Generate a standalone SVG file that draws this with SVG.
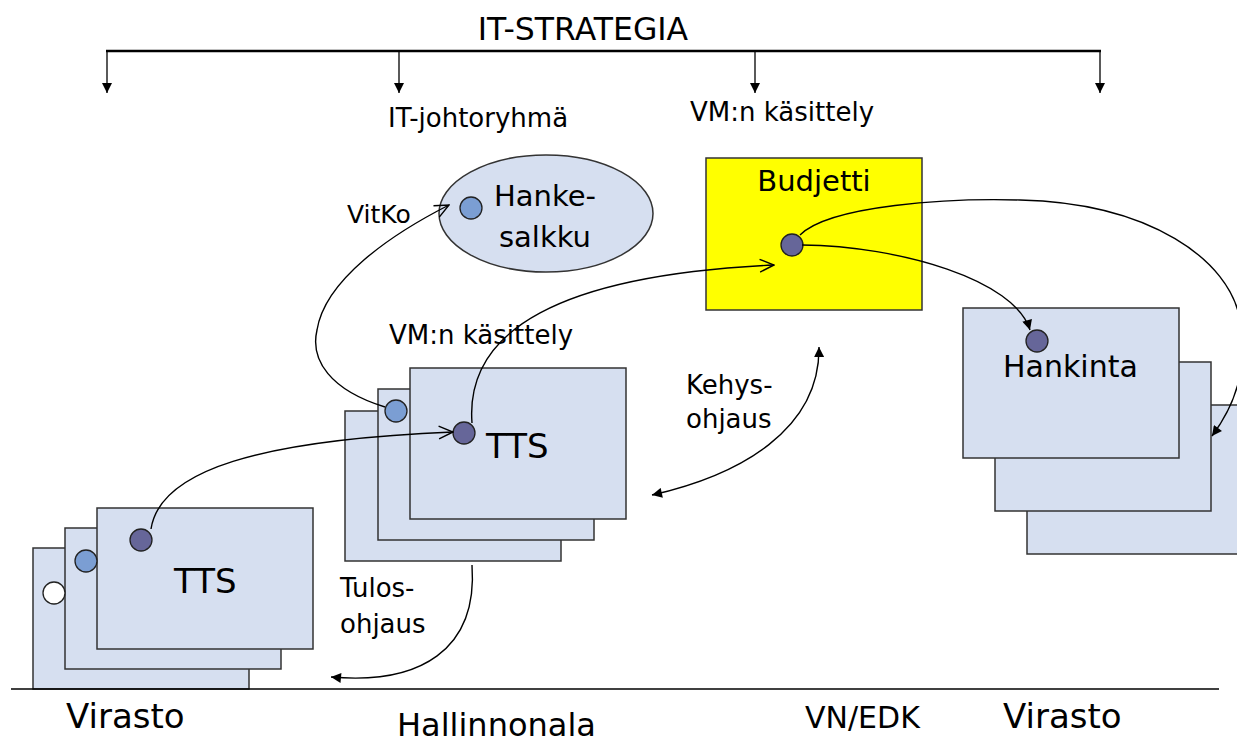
<svg xmlns="http://www.w3.org/2000/svg" width="1237" height="745" viewBox="0 0 1237 745">
<style>
text{font-family:"DejaVu Sans","Liberation Sans",sans-serif;fill:#000}
.box{fill:#D6DFF0;stroke:#333;stroke-width:1.5}
.dk{fill:#666699;stroke:#222;stroke-width:1.3}
.bl{fill:#7B9ED3;stroke:#222;stroke-width:1.3}
.wh{fill:#fff;stroke:#222;stroke-width:1.3}
.c{fill:none;stroke:#000;stroke-width:1.4}
</style>
<defs>
<marker id="af" viewBox="0 0 10 10" refX="10" refY="5" markerWidth="11" markerHeight="10" markerUnits="userSpaceOnUse" orient="auto-start-reverse"><path d="M0,0 L10,5 L0,10 z" fill="#000"/></marker>
<marker id="ao" viewBox="0 0 12 12" refX="11" refY="6" markerWidth="17" markerHeight="17" markerUnits="userSpaceOnUse" orient="auto"><path d="M1,1.5 L11,6 L1,10.5" fill="none" stroke="#000" stroke-width="1"/></marker>
</defs>
<rect width="1237" height="745" fill="#fff"/>

<g id="it-strategia">
<text x="583" y="40" font-size="31.5" text-anchor="middle">IT-STRATEGIA</text>
<line x1="106" y1="51" x2="1101" y2="51" stroke="#000" stroke-width="2.5"/>
<g stroke="#000" stroke-width="1.3" marker-end="url(#af)">
<line x1="107" y1="51" x2="107" y2="93"/>
<line x1="399" y1="51" x2="399" y2="93"/>
<line x1="755" y1="51" x2="755" y2="93"/>
<line x1="1100" y1="51" x2="1100" y2="93"/>
</g>
<text x="388" y="127" font-size="26">IT-johtoryhmä</text>
<text x="690" y="121" font-size="26">VM:n käsittely</text>
</g>

<g id="virasto-tts">
<rect class="box" x="33" y="548" width="216" height="141"/>
<rect class="box" x="65" y="528" width="216" height="141"/>
<rect class="box" x="97" y="508" width="216" height="141"/>
<circle class="wh" cx="54" cy="593" r="11"/>
<circle class="bl" cx="86" cy="561" r="11"/>
<circle class="dk" cx="141" cy="540" r="11"/>
<text x="174" y="593" font-size="34">TTS</text>
</g>

<g id="hallinnonala-tts">
<rect class="box" x="345" y="411" width="216" height="150"/>
<rect class="box" x="378" y="389" width="216" height="151"/>
<rect class="box" x="410" y="368" width="216" height="151"/>
<circle class="bl" cx="396" cy="411" r="11"/>
<circle class="dk" cx="464" cy="433" r="11"/>
<text x="486" y="458" font-size="34">TTS</text>
</g>

<g id="hankesalkku">
<ellipse cx="546" cy="213.5" rx="107" ry="58.5" fill="#D6DFF0" stroke="#333" stroke-width="1.5"/>
<circle class="bl" cx="471" cy="208" r="11"/>
<text x="545" y="206" font-size="29" text-anchor="middle">Hanke-</text>
<text x="545" y="247" font-size="29" text-anchor="middle">salkku</text>
</g>

<g id="budjetti">
<rect x="706" y="158" width="216" height="152" fill="#FFFF00" stroke="#333" stroke-width="1.5"/>
<text x="814" y="191" font-size="29" text-anchor="middle">Budjetti</text>
<circle class="dk" cx="792" cy="245" r="11"/>
</g>

<g id="hankinta">
<rect class="box" x="1027" y="405" width="220" height="149"/>
<rect class="box" x="995" y="362" width="216" height="149"/>
<rect class="box" x="963" y="308" width="216" height="150"/>
<circle class="dk" cx="1037" cy="341" r="11"/>
<text x="1003" y="377" font-size="30">Hankinta</text>
</g>

<g id="labels">
<text x="347" y="223" font-size="25">VitKo</text>
<text x="389" y="344" font-size="26">VM:n käsittely</text>
<text x="686" y="394" font-size="26">Kehys-</text>
<text x="686" y="428" font-size="26">ohjaus</text>
<text x="340" y="597" font-size="26">Tulos-</text>
<text x="340" y="633" font-size="26">ohjaus</text>
</g>

<g id="baseline">
<line x1="11" y1="689" x2="1219" y2="689" stroke="#000" stroke-width="1.3"/>
<text x="66" y="728" font-size="34">Virasto</text>
<text x="397" y="736" font-size="32">Hallinnonala</text>
<text x="805" y="728" font-size="30">VN/EDK</text>
<text x="1003" y="728" font-size="34">Virasto</text>
</g>

<g id="connectors">
<path class="c" d="M151,529 C160,470 260,440 453,432" marker-end="url(#ao)"/>
<path class="c" d="M385,407 C330,390 310,360 317,330 C325,280 390,235 449,205" marker-end="url(#ao)"/>
<path class="c" d="M472,423 C465,330 560,275 774,265" marker-end="url(#ao)"/>
<path class="c" d="M802,245 C900,246 1015,280 1030,330" marker-end="url(#af)"/>
<path class="c" d="M800,235 C830,205 950,198 1020,200 C1150,203 1230,260 1240,320 C1248,370 1235,405 1212,436" marker-end="url(#af)"/>
<path class="c" d="M652,495 C740,475 820,430 819,347" marker-start="url(#af)" marker-end="url(#af)"/>
<path class="c" d="M472,565 C478,650 420,685 331,677" marker-end="url(#af)"/>
</g>
</svg>
